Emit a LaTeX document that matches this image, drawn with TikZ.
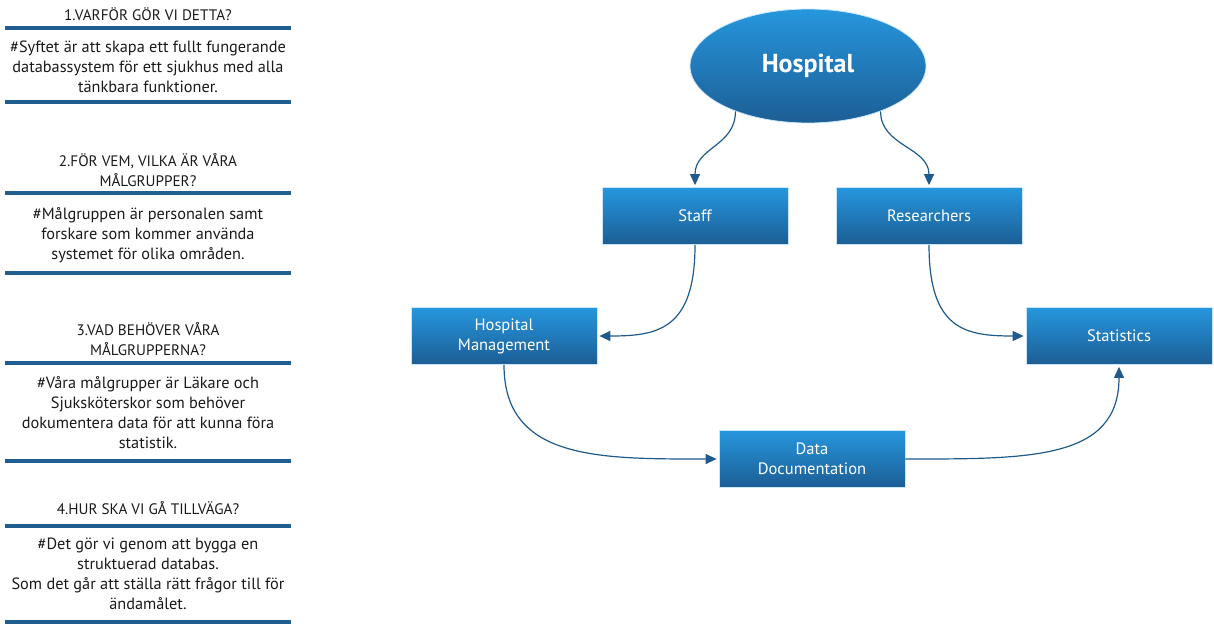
\documentclass[tikz,border=0pt]{standalone}
\usepackage{fontspec}
\setmainfont{PT Sans}
\usetikzlibrary{shapes.geometric}
\usetikzlibrary{arrows.meta}
\definecolor{boxtop}{RGB}{38,150,222}
\definecolor{boxbot}{RGB}{28,94,148}
\definecolor{boxrim}{RGB}{200,230,250}
\definecolor{linkblue}{RGB}{31,90,140}
\definecolor{barblue}{RGB}{31,94,143}
\definecolor{textgray}{RGB}{26,26,26}
\begin{document}
\begin{tikzpicture}[x=1pt,y=-1pt,
	block/.style={rectangle, draw=boxrim, line width=0.8pt, top color=boxtop, bottom color=boxbot,
		text=white, minimum width=186pt, minimum height=57pt, align=center,
		font=\fontsize{16.5}{20}\selectfont},
	link/.style={draw=linkblue, line width=1.2pt, shorten >=2pt, -{Triangle[length=11pt,width=10pt]}},
	bar/.style={draw=barblue, line width=4pt},
	note/.style={align=center, text=textgray, font=\fontsize{16.3}{20}\selectfont, inner sep=0pt},
	head/.style={note, font=\fontsize{15.2}{20}\selectfont}]
		\useasboundingbox (0,0) rectangle (1214,624);
		% left column
		\foreach \y in {28,102,193,273,363,461,526,622} {
			\draw[bar] (5,\y) -- (291,\y);
		}
		\node[head] (q1) at (148,14) {1.VARFÖR GÖR VI DETTA?};
		\node[note] (a1) at (148,67) {\#Syftet är att skapa ett fullt fungerande\\databassystem för ett sjukhus med alla\\tänkbara funktioner.};
		\node[head] (q2) at (148,170) {2.FÖR VEM, VILKA ÄR VÅRA\\MÅLGRUPPER?};
		\node[note] (a2) at (148,235) {\#Målgruppen är personalen samt\\forskare som kommer använda\\systemet för olika områden.};
		\node[head] (q3) at (148,339) {3.VAD BEHÖVER VÅRA\\MÅLGRUPPERNA?};
		\node[note] (a3) at (148,413) {\#Våra målgrupper är Läkare och\\Sjuksköterskor som behöver\\dokumentera data för att kunna föra\\statistik.};
		\node[head] (q4) at (148,508) {4.HUR SKA VI GÅ TILLVÄGA?};
		\node[note] (a4) at (148,574) {\#Det gör vi genom att bygga en\\struktuerad databas.\\Som det går att ställa rätt frågor till för\\ändamålet.};
		% diagram
		\node[block, ellipse, minimum width=236pt, minimum height=114pt, font=\fontsize{26}{30}\bfseries] (hosp) at (808,66) {Hospital};
		\node[block] (staff) at (695,216) {Staff};
		\node[block] (res) at (929,216) {Researchers};
		\node[block] (mgmt) at (504,336) {Hospital\\Management};
		\node[block] (stat) at (1119,336) {Statistics};
		\node[block] (docs) at (812,459) {Data\\Documentation};
		\draw[link] (hosp.212) .. controls +(0,35) and +(0,-40) .. (staff.north);
		\draw[link] (hosp.328) .. controls +(0,35) and +(0,-40) .. (res.north);
		\draw[link] (staff.south) .. controls +(0,85) and +(60,0) .. (mgmt.east);
		\draw[link] (res.south) .. controls +(0,85) and +(-60,0) .. (stat.west);
		\draw[link] (mgmt.south) .. controls +(0,95) and +(-120,0) .. (docs.west);
		\draw[link] (docs.east) .. controls +(125,0) and +(0,95) .. (stat.south);
\end{tikzpicture}
\end{document}
